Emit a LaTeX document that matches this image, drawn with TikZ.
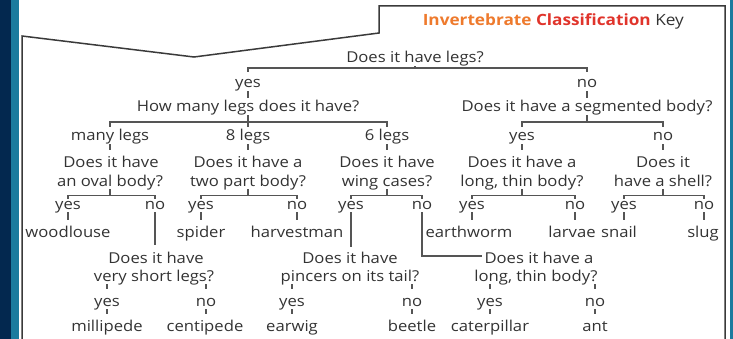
\documentclass[tikz,border=0pt]{standalone}
\usepackage{fontspec}
\setmainfont[FakeStretch=1.11]{Open Sans}
\definecolor{ink}{HTML}{333333}
\definecolor{lin}{HTML}{555555}
\definecolor{frm}{HTML}{3A3A3A}
\definecolor{navyband}{HTML}{03284F}
\definecolor{tealband}{HTML}{1B7B9E}
\definecolor{orangetitle}{HTML}{EE7A2D}
\definecolor{redtitle}{HTML}{E0342B}
\begin{document}
\begin{tikzpicture}[x=1pt,y=-1pt,
  txt/.style={font=\fontsize{15}{18}\selectfont, text=ink, text height=9pt, text depth=3pt, inner sep=0pt, anchor=base},
  ln/.style={draw=lin, line width=1.2pt},
  frame/.style={draw=frm, line width=1.5pt, line join=miter},
]
\useasboundingbox (0,0) rectangle (733,339);
\fill[navyband] (0,0) rectangle (11,339);
\fill[tealband] (11,0) rectangle (19,339);
\fill[tealband] (730,0) rectangle (733,339);
\draw[frame] (22,340) -- (22,36) -- (194,57) -- (379,33) -- (379,6) -- (725,6) -- (725,340);

\node[anchor=base east, inner sep=0pt, font=\fontsize{15.5}{18}\selectfont\bfseries] (title) at (684,26)
  {\textcolor{orangetitle}{Invertebrate} \textcolor{redtitle}{Classification} \textcolor{ink}{\mdseries Key}};

% level 1
\node[txt] (root) at (415,63) {Does it have legs?};
\node[txt] (yes1) at (248,88) {yes};
\node[txt] (no1) at (587,88) {no};
\node[txt] (how) at (248,112) {How many legs does it have?};
\node[txt] (seg) at (587,112) {Does it have a segmented body?};

% level 2
\node[txt] (many) at (110,141) {many legs};
\node[txt] (eight) at (248,141) {8 legs};
\node[txt] (six) at (387,141) {6 legs};
\node[txt] (segyes) at (522,141) {yes};
\node[txt] (segno) at (663,141) {no};

\node[txt] (ovalA) at (111,168) {Does it have};
\node[txt] (ovalB) at (110,186) {an oval body?};
\node[txt] (twoA) at (248,168) {Does it have a};
\node[txt] (twoB) at (248,186) {two part body?};
\node[txt] (wingA) at (387,168) {Does it have};
\node[txt] (wingB) at (387,186) {wing cases?};
\node[txt] (longA) at (522,168) {Does it have a};
\node[txt] (longB) at (522,186) {long, thin body?};
\node[txt] (shellA) at (663,168) {Does it};
\node[txt] (shellB) at (663,186) {have a shell?};

% level 3 answers
\node[txt] (ovy) at (68,209) {yes};
\node[txt] (ovn) at (155,209) {no};
\node[txt] (twy) at (201,209) {yes};
\node[txt] (twn) at (297,209) {no};
\node[txt] (wiy) at (351,209) {yes};
\node[txt] (win) at (422,209) {no};
\node[txt] (loy) at (472,209) {yes};
\node[txt] (lon) at (575,209) {no};
\node[txt] (shy) at (624,209) {yes};
\node[txt] (shn) at (704,209) {no};

% leaves
\node[txt] (woodlouse) at (68,237) {woodlouse};
\node[txt] (spider) at (201,237) {spider};
\node[txt] (harvestman) at (297,237) {harvestman};
\node[txt] (earthworm) at (469,237) {earthworm};
\node[txt] (larvae) at (572,237) {larvae};
\node[txt] (snail) at (619,237) {snail};
\node[txt] (slug) at (703,237) {slug};

% level 4
\node[txt] (shortA) at (156,263) {Does it have};
\node[txt] (shortB) at (154,281) {very short legs?};
\node[txt] (pinA) at (350,263) {Does it have};
\node[txt] (pinB) at (350,281) {pincers on its tail?};
\node[txt] (lt2A) at (539,263) {Does it have a};
\node[txt] (lt2B) at (536,281) {long, thin body?};

\node[txt] (shy2) at (107,306) {yes};
\node[txt] (shn2) at (206,306) {no};
\node[txt] (piy) at (292,306) {yes};
\node[txt] (pin) at (412,306) {no};
\node[txt] (lty) at (490,306) {yes};
\node[txt] (ltn) at (595,306) {no};

\node[txt] (millipede) at (107,331) {millipede};
\node[txt] (centipede) at (205,331) {centipede};
\node[txt] (earwig) at (292,331) {earwig};
\node[txt] (beetle) at (412,331) {beetle};
\node[txt] (caterpillar) at (490,331) {caterpillar};
\node[txt] (ant) at (595,331) {ant};

% ---- connectors ----
% root bracket
\coordinate (b1) at (415,68);
\draw[ln] (root.south) -- (b1);
\draw[ln] ([yshift=7pt]yes1.north) |- (b1) -| ([yshift=7pt]no1.north);
\draw[ln, shorten >=5pt] (yes1.south) -- (yes1.south |- how.north);
\draw[ln, shorten >=5pt] (no1.south) -- (no1.south |- seg.north);

% how many legs bracket
\coordinate (b2) at (248,122);
\draw[ln] (how.south) -- ([yshift=5pt]eight.north);
\draw[ln] ([yshift=5pt]many.north) |- (b2) -| ([yshift=5pt]six.north);
% segmented bracket
\coordinate (b3) at (587,122);
\draw[ln] (seg.south) -- (b3);
\draw[ln] ([yshift=5pt]segyes.north) |- (b3) -| ([yshift=5pt]segno.north);

% level2 -> questions
\foreach \a/\b in {many/ovalA, eight/twoA, six/wingA, segyes/longA, segno/shellA}
  \draw[ln, shorten >=9pt] (\a.south) -- (\a.south |- \b.north);

% level3 brackets
\foreach \q/\y/\n in {ovalB/ovy/ovn, twoB/twy/twn, wingB/wiy/win, longB/loy/lon, shellB/shy/shn}{
  \coordinate (c) at ([yshift=-6pt]\q.south);
  \draw[ln] (\q.south) -- (c);
  \draw[ln] ([yshift=1pt]\y.north) |- (c) -| ([yshift=1pt]\n.north);
}

% answers -> leaves
\foreach \a/\b in {ovy/woodlouse, twy/spider, twn/harvestman, loy/earthworm, lon/larvae, shy/snail, shn/slug}
  \draw[ln, shorten >=8pt] (\a.south) -- (\a.south |- \b.north);

% long links to deeper questions
\draw[ln, shorten >=9pt] (ovn.south) -- (ovn.south |- shortA.north);
\draw[ln, shorten >=7pt] (wiy.south) -- (wiy.south |- pinA.north);
\draw[ln, shorten >=2pt] (win.south) |- ([yshift=4pt]lt2A.west);

% level4 ticks
\foreach \q/\a in {shortB/shy2, shortB/shn2, pinB/piy, pinB/pin, lt2B/lty, lt2B/ltn}
  \draw[ln, shorten >=8pt] (\a.north |- \q.south) -- (\a.north);
\foreach \a/\b in {shy2/millipede, shn2/centipede, piy/earwig, pin/beetle, lty/caterpillar, ltn/ant}
  \draw[ln, shorten >=8pt] (\a.south) -- (\a.south |- \b.north);
\end{tikzpicture}
\end{document}
